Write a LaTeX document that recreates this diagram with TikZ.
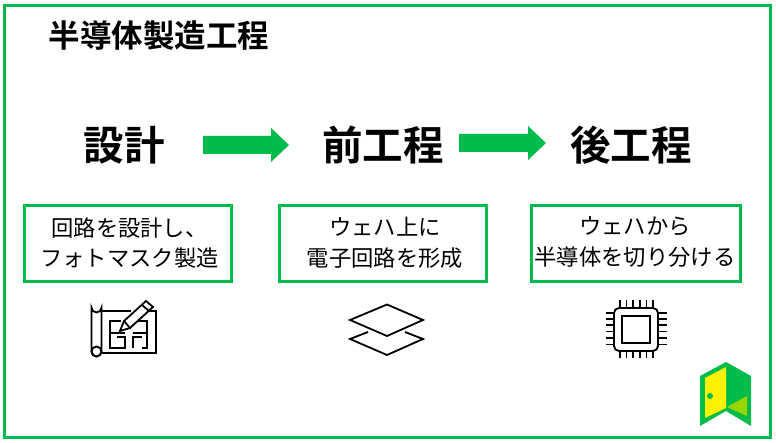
\documentclass[tikz,border=0pt]{standalone}
\usepackage{fontspec}
\setmainfont{Noto Sans CJK JP}
\newfontfamily\cjkb{Noto Sans CJK JP Bold}
\definecolor{brand}{HTML}{00BC4B}
\definecolor{doorlime}{HTML}{99D600}
\definecolor{dooryel}{HTML}{FFF200}
\tikzset{
 frame/.style={draw=brand,line width=3pt},
 infobox/.style={draw=brand,line width=3pt,fill=white,align=center,inner sep=0pt,minimum height=76pt,font=\fontsize{22.3}{30.5}\selectfont},
 heading/.style={inner sep=0pt,font=\fontsize{40.5}{44}\selectfont\cjkb},
 flow/.style={fill=brand,draw=none},
 icon/.style={draw=black,line width=1.8pt,line join=miter},
}
\begin{document}
\begin{tikzpicture}[x=1pt,y=-1pt]
\useasboundingbox (0,0) rectangle (776,443);
\fill[white] (0,0) rectangle (776,443);
\draw[frame] (4,6) rectangle (770,437);
\node[inner sep=0pt,anchor=west,font=\fontsize{31.5}{34}\selectfont\cjkb] (title) at (48.5,36) {半導体製造工程};
\node[heading] (h1) at (124,145) {設計};
\node[heading] (h2) at (383,145) {前工程};
\node[heading] (h3) at (631,145) {後工程};
\fill[flow] (203,136)--(271,136)--(271,128)--(289,145)--(271,162)--(271,154)--(203,154)--cycle;
\fill[flow] (459,134)--(528,134)--(528,126)--(546,143)--(528,160)--(528,152)--(459,152)--cycle;
\node[infobox,minimum width=207pt] (b1) at (128,243.5) {};
\node[infobox,minimum width=207pt] (b2) at (383,243.5) {};
\node[infobox,minimum width=209pt] (b3) at (636,243.5) {};
\node[align=center,inner sep=0pt,font=\fontsize{22.3}{30.5}\selectfont] (t1) at (129.5,243) {回路を設計し、\\フォトマスク製造};
\node[align=center,inner sep=0pt,font=\fontsize{22.3}{30.5}\selectfont] (t2) at (385,243) {ウェハ上に\\電子回路を形成};
\node[align=center,inner sep=0pt,font=\fontsize{22.3}{30.5}\selectfont] (t3) at (635,242) {ウェハから\\半導体を切り分ける};
% blueprint icon
\draw[icon] (91.5,307.5) arc (180:0:5) -- (101.5,351.5) arc (0:180:5) -- cycle;
\draw[icon] (96.5,351.5) circle (5);
\draw[icon] (102,311) -- (131,311);
\draw[icon] (144,311) -- (156,311) -- (156,353) -- (102,353);
\draw[icon] (121,321) -- (110,321) -- (110,348) -- (125,348) -- (125,337) -- (117,337);
\draw[icon] (110,333) -- (125,333);
\draw[icon] (132,321) -- (147,321) -- (147,348) -- (142,348);
\draw[icon] (133,348) -- (133,337) -- (142,337);
\draw[icon] (133,333) -- (147,333);
\draw[icon,fill=white] (120,331) -- (124,321) -- (146,301) -- (153,307) -- (130,328) -- cycle;
\draw[icon] (124,321) -- (130,328);
\draw[icon] (142,305) -- (149,311);
% layers icon
\draw[icon] (350,320) -- (387,304.5) -- (423,320) -- (387,336) -- cycle;
\draw[icon] (368,332) -- (350,339) -- (387,355) -- (423,339) -- (405,332);
% chip icon
\draw[icon,rounded corners=5pt] (614,308) rectangle (658,351);
\draw[icon] (622,316) rectangle (650,343);
\foreach \x in {620,626.5,633,640,646.5,653} {
  \draw[line width=1.5pt] (\x,300) -- (\x,308);
  \draw[line width=1.5pt] (\x,351) -- (\x,358);
}
\foreach \y in {313,319,325,331.5,338,344.5} {
  \draw[line width=1.5pt] (606,\y) -- (614,\y);
  \draw[line width=1.5pt] (658,\y) -- (667,\y);
}
% door logo
\fill[brand] (700,376) -- (726,362) -- (751,376) -- (751,426) -- (726,411) -- (700,426) -- cycle;
\fill[dooryel] (705,378) -- (726,367) -- (726,408) -- (705,418) -- cycle;
\fill[brand] (710,396) circle (3);
\fill[doorlime] (747,396) -- (747,416) -- (727,407) -- cycle;
\end{tikzpicture}
\end{document}
